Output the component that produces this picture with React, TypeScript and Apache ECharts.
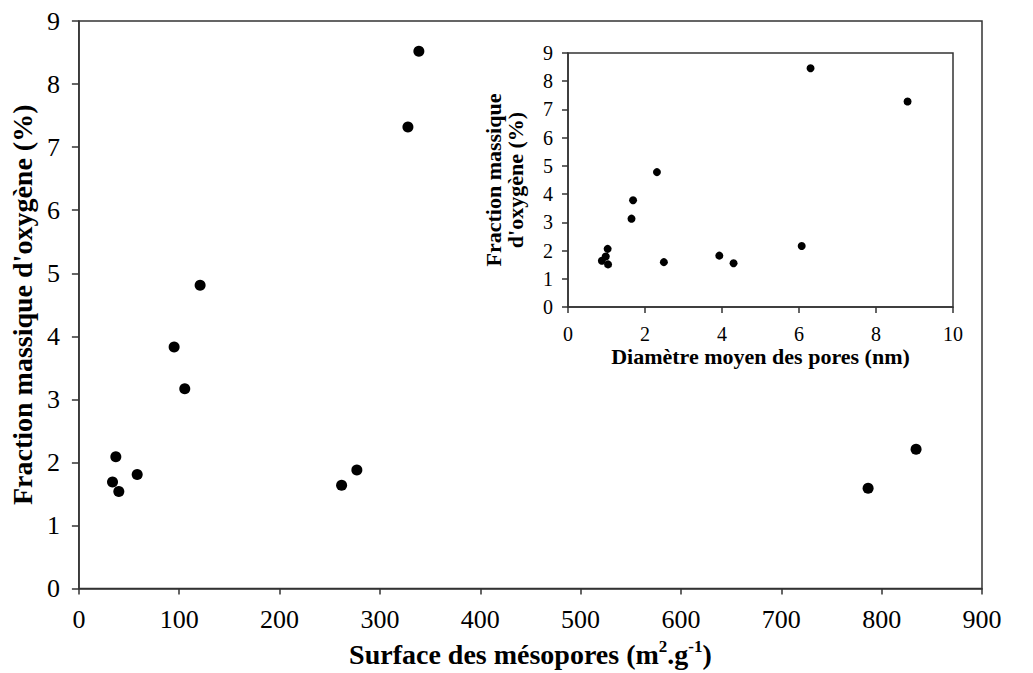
import React, { useEffect, useRef } from "react";
import * as echarts from "echarts";

const mainX = [33.5, 36.8, 39.8, 58.1, 94.9, 105.5, 120.8, 261.8, 277, 327.9, 338.8, 786.5, 834.3];
const mainY = [1.69, 2.09, 1.54, 1.81, 3.83, 3.17, 4.81, 1.64, 1.88, 7.32, 8.52, 1.59, 2.21];

const insetX = [0.88, 0.98, 1.03, 1.04, 1.65, 1.69, 2.31, 2.49, 3.93, 4.3, 6.07, 6.3, 8.82];
const insetY = [1.64, 1.79, 2.06, 1.51, 3.13, 3.78, 4.78, 1.59, 1.82, 1.55, 2.16, 8.46, 7.28];

const mainXTitle = "Surface des mésopores (m{sup|2}.g{sup|-1})";
const mainYTitle = "Fraction massique d'oxygène (%)";
const insetXTitle = "Diamètre moyen des pores (nm)";
const insetYTitle = "Fraction massique\nd'oxygène (%)";

const FONT = "Liberation Serif";
const AXIS = "#333";

export default function App() {
  const ref = useRef<HTMLDivElement>(null);
  useEffect(() => {
    if (!ref.current) return;
    const chart = echarts.init(ref.current, null, { renderer: "svg" });
    const axisCommon = {
      axisLine: { show: true, onZero: false, lineStyle: { color: AXIS, width: 1.5 } },
      splitLine: { show: false },
    };
    chart.setOption({
      animation: false,
      backgroundColor: "#fff",
      textStyle: { fontFamily: FONT, color: "#000" },
      grid: [
        { left: 78, top: 21, width: 904, height: 570, show: true, borderColor: AXIS, borderWidth: 1.5, backgroundColor: "transparent" },
        { left: 568, top: 53, width: 385, height: 254, show: true, borderColor: AXIS, borderWidth: 1.5, backgroundColor: "transparent" },
      ],
      xAxis: [
        {
          ...axisCommon,
          gridIndex: 0,
          type: "value",
          min: 0,
          max: 900,
          interval: 100,
          axisTick: { show: true, length: 6, lineStyle: { color: AXIS, width: 1.5 } },
          axisLabel: { fontFamily: FONT, fontSize: 26, color: "#000", margin: 18 },
          name: mainXTitle,
          nameLocation: "middle",
          nameGap: 42,
          nameTextStyle: {
            fontFamily: FONT,
            fontSize: 28,
            fontWeight: "bold",
            color: "#000",
            verticalAlign: "top",
            rich: {
              sup: { fontFamily: FONT, fontSize: 17, fontWeight: "bold", color: "#000", padding: [0, 0, 16, 0] },
            },
          },
        },
        {
          ...axisCommon,
          gridIndex: 1,
          type: "value",
          min: 0,
          max: 10,
          interval: 2,
          axisTick: { show: true, length: 6, lineStyle: { color: AXIS, width: 1.5 } },
          axisLabel: { fontFamily: FONT, fontSize: 20, color: "#000", margin: 17 },
          name: insetXTitle,
          nameLocation: "middle",
          nameGap: 38,
          nameTextStyle: { fontFamily: FONT, fontSize: 22, fontWeight: "bold", color: "#000", verticalAlign: "top" },
        },
      ],
      yAxis: [
        {
          ...axisCommon,
          gridIndex: 0,
          type: "value",
          min: 0,
          max: 9,
          interval: 1,
          axisTick: { show: true, length: 7, lineStyle: { color: AXIS, width: 1.5 } },
          axisLabel: { fontFamily: FONT, fontSize: 26, color: "#000", margin: 19 },
          name: mainYTitle,
          nameLocation: "middle",
          nameGap: 40,
          nameRotate: 90,
          nameTextStyle: { fontFamily: FONT, fontSize: 28, fontWeight: "bold", color: "#000" },
        },
        {
          ...axisCommon,
          gridIndex: 1,
          type: "value",
          min: 0,
          max: 9,
          interval: 1,
          axisTick: { show: true, length: 6, lineStyle: { color: AXIS, width: 1.5 } },
          axisLabel: { fontFamily: FONT, fontSize: 20, color: "#000", margin: 15 },
          name: insetYTitle,
          nameLocation: "middle",
          nameGap: 42,
          nameRotate: 90,
          nameTextStyle: { fontFamily: FONT, fontSize: 22, fontWeight: "bold", color: "#000", lineHeight: 22 },
        },
      ],
      series: [
        {
          type: "scatter",
          xAxisIndex: 0,
          yAxisIndex: 0,
          symbol: "circle",
          symbolSize: 11,
          itemStyle: { color: "#000", opacity: 1 },
          data: mainX.map((x, i) => [x, mainY[i]]),
        },
        {
          type: "scatter",
          xAxisIndex: 1,
          yAxisIndex: 1,
          symbol: "circle",
          symbolSize: 8,
          itemStyle: { color: "#000", opacity: 1 },
          data: insetX.map((x, i) => [x, insetY[i]]),
        },
      ],
    });
    return () => chart.dispose();
  }, []);
  return (
    <div
      ref={ref}
      style={{ position: "fixed", left: 0, top: 0, width: 1033, height: 673, background: "#fff" }}
    />
  );
}
